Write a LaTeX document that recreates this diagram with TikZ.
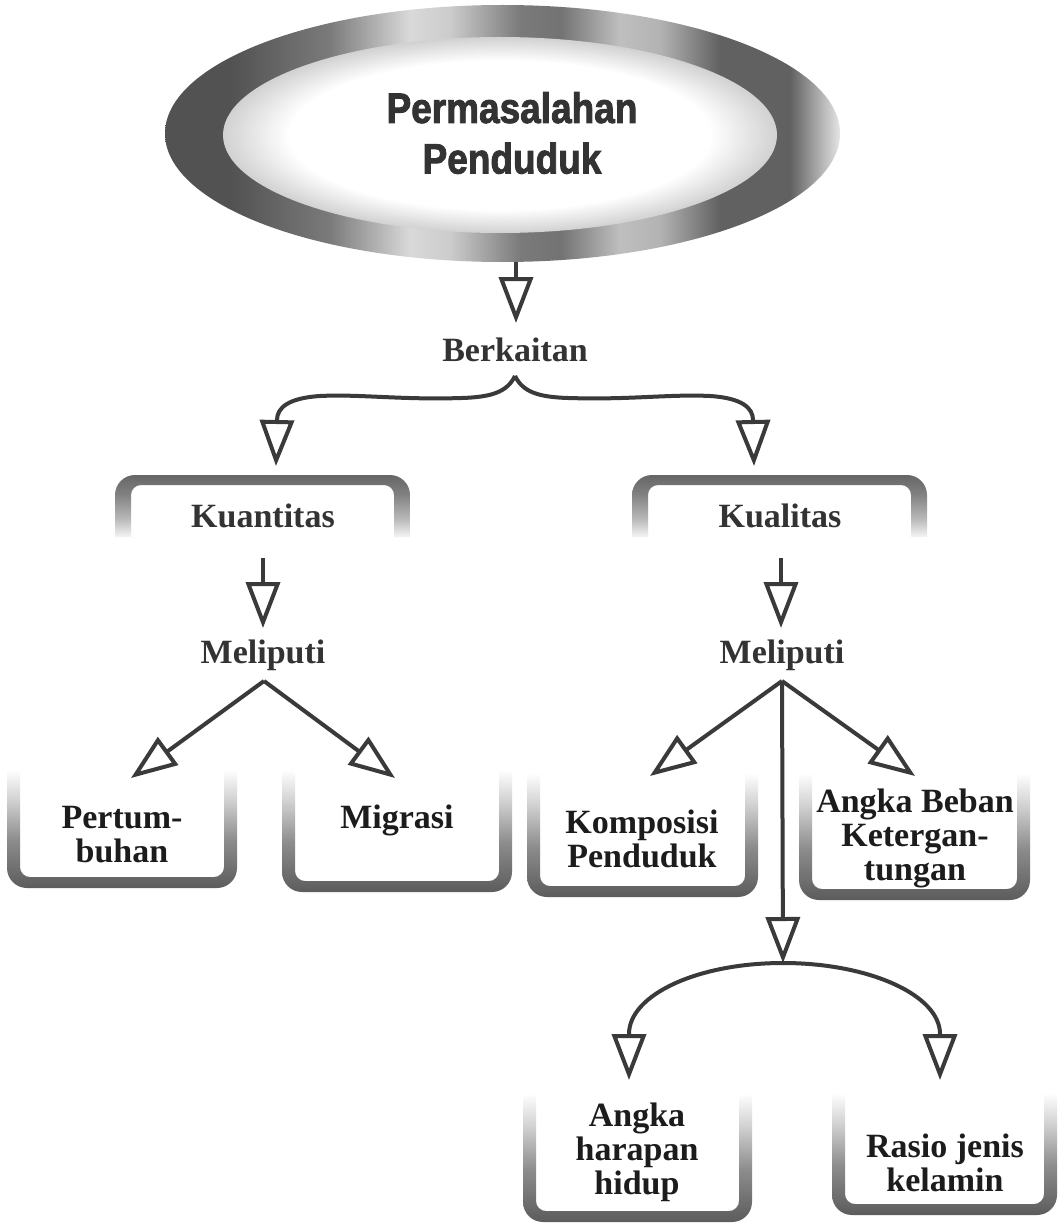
\documentclass[tikz,border=0pt]{standalone}
\usepackage{fontspec}
\setmainfont{Liberation Serif}
\newfontfamily\titlefont{Liberation Sans}[BoldFeatures={FakeBold=2.2}]
\usetikzlibrary{arrows.meta}
\definecolor{ink}{HTML}{3A3A3A}
\definecolor{boxink}{HTML}{1C1C1C}
\definecolor{titleink}{HTML}{333333}
\definecolor{gA}{gray}{0.32}
\definecolor{gB}{gray}{0.48}
\definecolor{gC}{gray}{0.85}
\definecolor{gD}{gray}{0.80}
\definecolor{gE}{gray}{0.45}
\definecolor{gF}{gray}{0.75}
\definecolor{gG}{gray}{0.70}
\definecolor{gH}{gray}{0.38}
\definecolor{gI}{gray}{0.90}
\definecolor{gW}{gray}{1.0}
\definecolor{gJ}{gray}{0.82}
\definecolor{h95}{gray}{0.96}
\definecolor{h75}{gray}{0.72}
\definecolor{h50}{gray}{0.50}
\definecolor{h40}{gray}{0.40}
\definecolor{c35}{gray}{0.36}
\definecolor{c55}{gray}{0.55}
\definecolor{c80}{gray}{0.82}
\pgfdeclarehorizontalshading{ringshade}{100bp}{%
 color(0bp)=(gA); color(25bp)=(gA); color(29.8bp)=(gA); color(37.2bp)=(gB);
 color(43.1bp)=(gC); color(46.1bp)=(gD); color(51.3bp)=(gB); color(54.3bp)=(gE);
 color(58.7bp)=(gF); color(61.7bp)=(gG); color(66.1bp)=(gH); color(71.3bp)=(gH);
 color(75bp)=(gI); color(100bp)=(gI)}
\pgfdeclareradialshading{innerglow}{\pgfpoint{0bp}{0bp}}{%
 color(0bp)=(gW); color(19bp)=(gW); color(25bp)=(gJ); color(50bp)=(gJ)}
\pgfdeclareverticalshading{hoodshade}{100bp}{%
 color(0bp)=(h95); color(25bp)=(h95); color(40bp)=(h75); color(60bp)=(h50);
 color(75bp)=(h40); color(100bp)=(h40)}
\pgfdeclareverticalshading{cupshade}{100bp}{%
 color(0bp)=(c35); color(25bp)=(c35); color(44bp)=(c55); color(60bp)=(c80);
 color(72bp)=(gW); color(100bp)=(gW)}
\newcommand\hoodframe[4]{%
 \shade[even odd rule, shading=hoodshade]
   (#1,#4) [rounded corners=20pt] -- (#1,#2) -- (#3,#2) [sharp corners] -- (#3,#4) -- cycle
   (#1+16,#4) [rounded corners=10pt] -- (#1+16,#2+10) -- (#3-16,#2+10) [sharp corners] -- (#3-16,#4) -- cycle;}
\newcommand\cupframe[4]{%
 \shade[even odd rule, shading=cupshade]
   (#1,#2) [rounded corners=20pt] -- (#1,#4) -- (#3,#4) [sharp corners] -- (#3,#2) -- cycle
   (#1+13,#2) [rounded corners=10pt] -- (#1+13,#4-11) -- (#3-13,#4-11) [sharp corners] -- (#3-13,#2) -- cycle;}
\tikzset{
 lbl/.style={inner sep=0pt, text=titleink, font=\fontsize{34}{35}\selectfont\bfseries, align=center},
 boxlbl/.style={inner sep=0pt, text=boxink, font=\fontsize{34}{34}\selectfont\bfseries, align=center},
 arr/.style={draw=ink, line width=4pt, -{Triangle[width=34pt,length=46pt,fill=white]}},
 conn/.style={draw=ink, line width=4pt}
}
\begin{document}
\begin{tikzpicture}[x=1pt,y=-1pt]
\useasboundingbox (0,0) rectangle (1060,1225);
\fill[white] (0,0) rectangle (1060,1225);
% title ellipse
\shade[shading=ringshade] (502.5,133.5) ellipse [x radius=337.5, y radius=128.5];
\shade[shading=innerglow] (500,135) ellipse [x radius=277, y radius=98];
\node[inner sep=0pt, text=titleink, align=center,
  font=\titlefont\bfseries\fontsize{37}{44}\selectfont, yscale=1.15] (title) at (512,133) {Permasalahan\\Penduduk};
\coordinate (ellbot) at (516,262);
\coordinate (tipBerk) at (516,323);
% labels
\node[lbl] (berk) at (515,350) {Berkaitan};
\coordinate (braceTop) at (515,376);
\coordinate (tipKuan) at (276,466);
\coordinate (tipKual) at (754,466);
% hood boxes
\hoodframe{115}{475}{410}{537}
\hoodframe{632}{475}{927}{537}
\node[lbl] (kuan) at (263,516) {Kuantitas};
\node[lbl] (kual) at (780,516) {Kualitas};
\coordinate (kuanOut) at (263,558);
\coordinate (kualOut) at (781,558);
\node[lbl] (melL) at (263,655) {Meliputi};
\node[lbl] (melR) at (782,655) {Meliputi};
\coordinate (apexL) at (264,681);
\coordinate (apexR) at (782,681);
\coordinate (tipMelL) at (263,628);
\coordinate (tipMelR) at (781,628);
% cup boxes row 1
\cupframe{7}{762}{237}{888}
\cupframe{282}{762}{512}{892}
\cupframe{527}{765}{758}{897}
\cupframe{799}{765}{1030}{900}
\node[boxlbl] (pert) at (122,835) {Pertum-\\buhan};
\node[boxlbl] (migr) at (397,820) {Migrasi};
\node[boxlbl] (komp) at (642,839) {Komposisi\\Penduduk};
\node[boxlbl] (abeb) at (915,838) {Angka Beban\\Ketergan-\\tungan};
\coordinate (tipPert) at (131,778);
\coordinate (tipMigr) at (395,778);
\coordinate (tipKomp) at (650,776);
\coordinate (tipAbeb) at (915,776);
\coordinate (arcTop) at (783,963);
\coordinate (arcL) at (629,1034);
\coordinate (arcR) at (940,1034);
\coordinate (tipAhh) at (629,1080);
\coordinate (tipRjk) at (940,1080);
% cup boxes row 2
\cupframe{523}{1085}{752}{1222}
\cupframe{832}{1085}{1057}{1215}
\node[boxlbl] (ahh) at (637,1152) {Angka\\harapan\\hidup};
\node[boxlbl] (rjk) at (945,1163) {Rasio jenis\\kelamin};
% connectors
\draw[arr] (ellbot) -- (tipBerk);
\draw[arr] (braceTop) .. controls (507,392) and (492,397) .. (462,398)
   .. controls (400,400) and (360,394) .. (320,396)
   .. controls (288,398) and (277,408) .. (277,420) -- (tipKuan);
\draw[arr] (braceTop) .. controls (523,392) and (538,397) .. (568,398)
   .. controls (630,400) and (670,394) .. (710,396)
   .. controls (742,398) and (753,408) .. (753,420) -- (tipKual);
\draw[arr] (kuanOut) -- (tipMelL);
\draw[arr] (kualOut) -- (tipMelR);
\draw[arr] (apexL) -- (tipPert);
\draw[arr] (apexL) -- (tipMigr);
\draw[arr] (apexR) -- (tipKomp);
\draw[arr] (apexR) -- (tipAbeb);
\draw[arr] (apexR) -- (arcTop);
\draw[arr] (arcTop) .. controls (697,963) and (629,995) .. (arcL) -- (tipAhh);
\draw[arr] (arcTop) .. controls (869,963) and (940,995) .. (arcR) -- (tipRjk);
\end{tikzpicture}
\end{document}
